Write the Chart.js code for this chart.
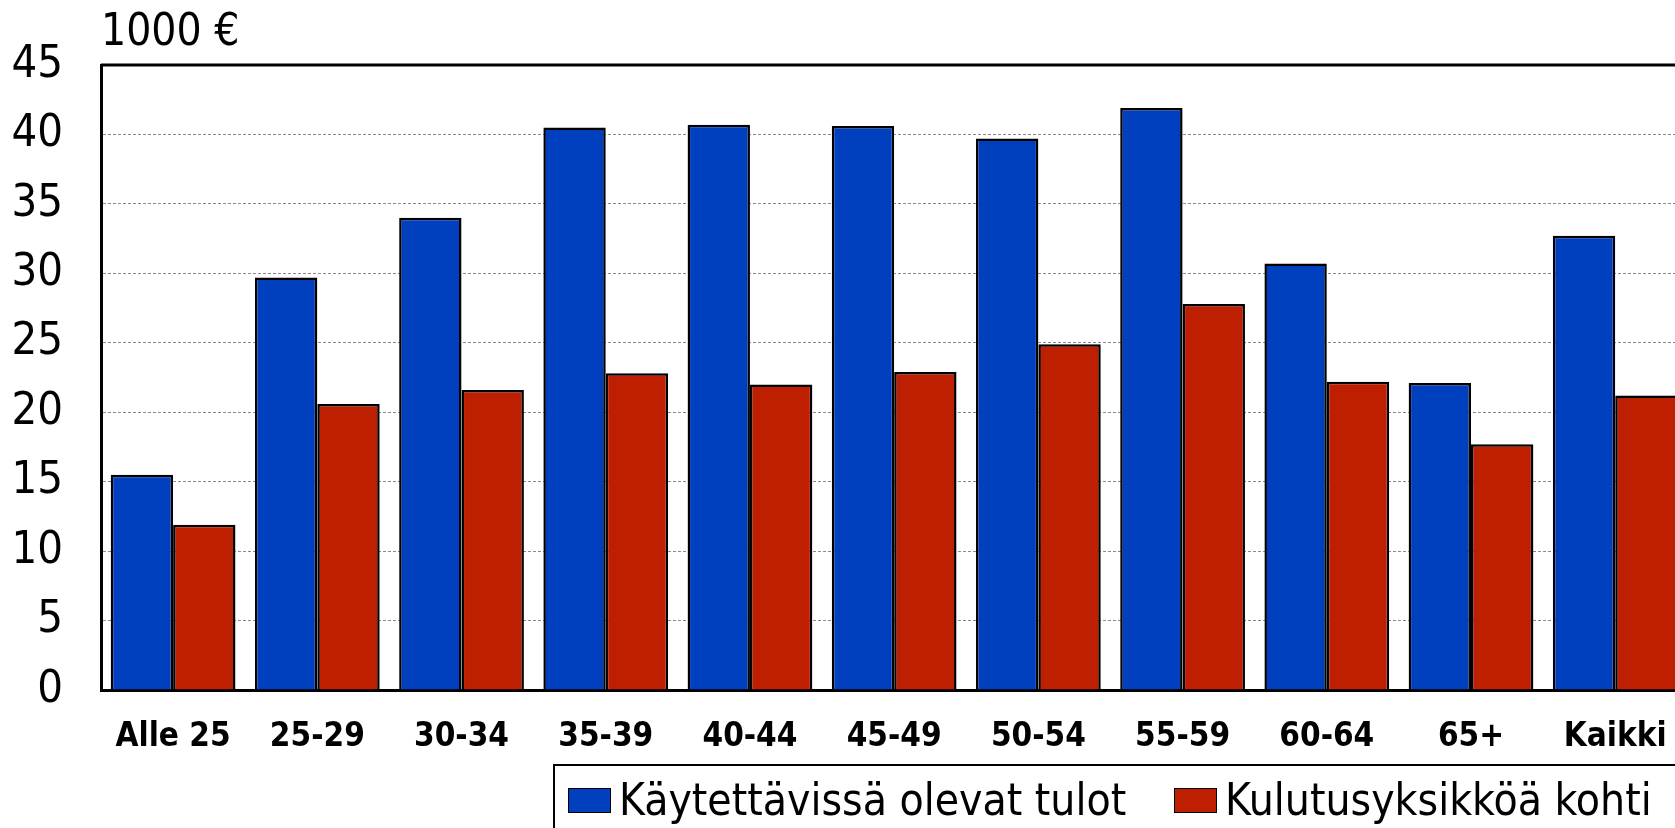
<!DOCTYPE html>
<html lang="fi">
<head>
    <meta charset="UTF-8">
    <title>Käytettävissä olevat tulot ikäryhmittäin</title>
    <script src="https://cdn.jsdelivr.net/npm/chart.js"></script>
    <style>
        html, body {
          margin: 0;
          padding: 0;
          background: #fff;
          overflow: hidden;
        }
        .wrap {
          position: relative;
          width: 1695px;
          height: 828px;
        }
        .legend {
          position: absolute;
          left: 553px;
          top: 764px;
          width: 1200px;
          height: 120px;
          border: 2px solid #000;
          box-sizing: border-box;
          font-family: "DejaVu Sans Condensed", "DejaVu Sans", sans-serif;
          font-size: 44px;
          color: #000;
        }
        .legend .item {
          position: absolute;
          top: 9px;
          display: flex;
          align-items: center;
          white-space: nowrap;
          line-height: 50px;
        }
        .legend .box {
          width: 41px;
          height: 23px;
          border: 1.5px solid #000;
          margin-right: 8px;
        }
    </style>
</head>
<body>
<div class="wrap">
    <canvas id="tulot" width="1695" height="828"></canvas>
    <div class="legend" id="legend"></div>
</div>

<script>
    const FONT = '"DejaVu Sans Condensed", "DejaVu Sans", sans-serif';

    // ikäryhmät
    const ryhmat = ['Alle 25', '25-29', '30-34', '35-39', '40-44', '45-49', '50-54', '55-59', '60-64', '65+', 'Kaikki'];
    // 1000 €
    const tulot = [15.5, 29.7, 34.0, 40.5, 40.7, 40.6, 39.7, 41.9, 30.7, 22.1, 32.7];
    const kulutusyksikko = [11.9, 20.6, 21.6, 22.8, 22.0, 22.9, 24.9, 27.8, 22.2, 17.7, 21.2];
    const sarjat = ['Käytettävissä olevat tulot', 'Kulutusyksikköä kohti'];
    const varit = ['#0040BE', '#BE1F00'];

    // kehys kuva-alueen ympärille (ylä- ja oikea reuna)
    const frame = {
      id: 'frame',
      afterDatasetsDraw(chart) {
        const {ctx, chartArea} = chart;
        ctx.save();
        ctx.strokeStyle = '#000';
        ctx.lineWidth = 3;
        ctx.beginPath();
        ctx.moveTo(chartArea.left, chartArea.top);
        ctx.lineTo(chartArea.right, chartArea.top);
        ctx.lineTo(chartArea.right, chartArea.bottom);
        ctx.stroke();
        ctx.restore();
      }
    };

    const chart = new Chart(document.getElementById('tulot'), {
      type: 'bar',
      data: {
        labels: ryhmat,
        datasets: [
          {
            label: sarjat[0],
            data: tulot,
            backgroundColor: varit[0],
            borderColor: '#000',
            borderWidth: 2.5
          },
          {
            label: sarjat[1],
            data: kulutusyksikko,
            backgroundColor: varit[1],
            borderColor: '#000',
            borderWidth: 2.5
          }
        ]
      },
      options: {
        responsive: false,
        animation: false,
        layout: { padding: { left: 0, right: 4, top: 0, bottom: 64 } },
        datasets: { bar: { categoryPercentage: 0.865, barPercentage: 1.0 } },
        plugins: {
          legend: { display: false },
          tooltip: { enabled: false },
          title: {
            display: true,
            text: '1000 €',
            align: 'start',
            fullSize: false,
            color: '#000',
            font: { family: FONT, size: 44, weight: 'normal', lineHeight: 1 },
            padding: { top: 11, bottom: 9 }
          }
        },
        scales: {
          x: {
            grid: { drawOnChartArea: false, drawTicks: false },
            border: { display: true, color: '#000', width: 3 },
            ticks: {
              color: '#000',
              padding: 28,
              maxRotation: 0,
              autoSkip: false,
              font: { family: FONT, size: 33, weight: 'bold' }
            },
            afterFit(scale) { scale.height = 74; }
          },
          y: {
            min: 0,
            max: 45,
            grid: { color: '#8a8a8a', lineWidth: 1, drawTicks: false },
            border: { display: true, color: '#000', width: 3, dash: [3, 2] },
            ticks: {
              stepSize: 5,
              color: '#000',
              padding: 38,
              font: { family: FONT, size: 45 }
            },
            afterFit(scale) { scale.width = 101; }
          }
        }
      },
      plugins: [frame]
    });

    // selite
    const legend = document.getElementById('legend');
    const paikat = [13, 619];
    sarjat.forEach((nimi, i) => {
      legend.innerHTML += `<div class="item" style="left:${paikat[i]}px"><span class="box" style="background:${varit[i]}"></span><span>${nimi}</span></div>`;
    });
</script>
</body>
</html>
